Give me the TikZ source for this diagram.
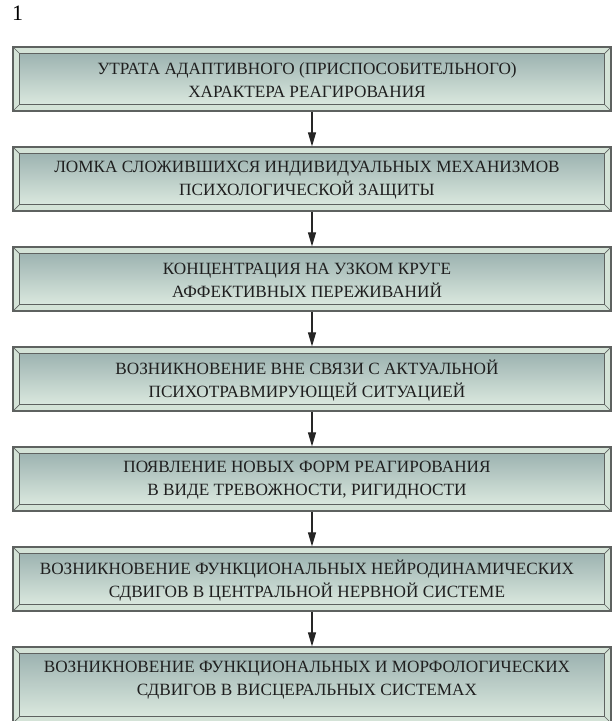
\documentclass[tikz,border=0pt]{standalone}
\usepackage{fontspec}
\setmainfont{Liberation Serif}
\usetikzlibrary{arrows.meta}
\definecolor{frame}{HTML}{5E6260}
\definecolor{bevel}{HTML}{D4E3D7}
\definecolor{innertop}{HTML}{9DB3B1}
\definecolor{innerbot}{HTML}{DAE8DE}
\tikzset{
  box/.style={draw=frame, line width=1.3pt, fill=bevel, minimum width=598pt,
    minimum height=64pt, inner sep=0pt,
    path picture={
      \coordinate (nw) at ([xshift=6.5pt,yshift=-6.5pt]path picture bounding box.north west);
      \coordinate (se) at ([xshift=-6.5pt,yshift=6.5pt]path picture bounding box.south east);
      \shade[top color=innertop, bottom color=innerbot] (nw) rectangle (se);
      \draw[frame, line width=1.3pt] (nw) rectangle (se);
      \draw[frame, line width=0.7pt] (path picture bounding box.north west) -- (nw)
        (path picture bounding box.south east) -- (se)
        (path picture bounding box.north east) -- (nw -| se)
        (path picture bounding box.south west) -- (se -| nw);
    }},
  txt/.style={align=center, font=\fontsize{17.2}{23}\selectfont, inner sep=0pt, text=black!88},
  conn/.style={draw=black!85, line width=1.2pt, -{Triangle[length=14pt,width=8pt]}}
}
\begin{document}
\begin{tikzpicture}[x=1pt,y=-1pt]
\useasboundingbox (0,0) rectangle (614,721);
\node[font=\fontsize{22}{24}\selectfont, anchor=base west, inner sep=0pt] (num) at (12,20) {1};

\node[box] (b1) at (312,79) {};
\node[txt] (t1) at (307,80.5) {УТРАТА АДАПТИВНОГО (ПРИСПОСОБИТЕЛЬНОГО)\\ХАРАКТЕРА РЕАГИРОВАНИЯ};
\node[box] (b2) at (312,179) {};
\node[txt] (t2) at (307,180.5) {ЛОМКА СЛОЖИВШИХСЯ ИНДИВИДУАЛЬНЫХ МЕХАНИЗМОВ\\ПСИХОЛОГИЧЕСКОЙ ЗАЩИТЫ};
\node[box] (b3) at (312,279) {};
\node[txt] (t3) at (307,280.5) {КОНЦЕНТРАЦИЯ НА УЗКОМ КРУГЕ\\АФФЕКТИВНЫХ ПЕРЕЖИВАНИЙ};
\node[box] (b4) at (312,379) {};
\node[txt] (t4) at (307,380.5) {ВОЗНИКНОВЕНИЕ ВНЕ СВЯЗИ С АКТУАЛЬНОЙ\\ПСИХОТРАВМИРУЮЩЕЙ СИТУАЦИЕЙ};
\node[box] (b5) at (312,479) {};
\node[txt] (t5) at (307,480.5) {ПОЯВЛЕНИЕ НОВЫХ ФОРМ РЕАГИРОВАНИЯ\\В ВИДЕ ТРЕВОЖНОСТИ, РИГИДНОСТИ};
\node[box] (b6) at (312,579) {};
\node[txt] (t6) at (307,580.5) {ВОЗНИКНОВЕНИЕ ФУНКЦИОНАЛЬНЫХ НЕЙРОДИНАМИЧЕСКИХ\\СДВИГОВ В ЦЕНТРАЛЬНОЙ НЕРВНОЙ СИСТЕМЕ};
\node[box, minimum height=76pt] (b7) at (312,685) {};
\node[txt] (t7) at (307,680.5) {ВОЗНИКНОВЕНИЕ ФУНКЦИОНАЛЬНЫХ И МОРФОЛОГИЧЕСКИХ\\СДВИГОВ В ВИСЦЕРАЛЬНЫХ СИСТЕМАХ};

\foreach \a/\b in {b1/b2,b2/b3,b3/b4,b4/b5,b5/b6,b6/b7}
  \draw[conn] (\a.south) -- (\b.north);
\end{tikzpicture}
\end{document}
